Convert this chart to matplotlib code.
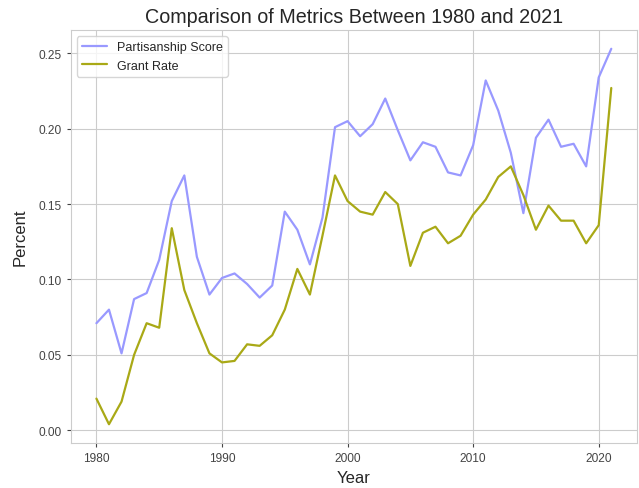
import numpy as np
import matplotlib
matplotlib.use("Agg")
import matplotlib.pyplot as plt
import seaborn as sns

years = np.arange(1980, 2022)

partisanship = [
    0.071, 0.080, 0.051, 0.087, 0.091, 0.113, 0.152, 0.169, 0.115, 0.090,
    0.101, 0.104, 0.097, 0.088, 0.096, 0.145, 0.133, 0.110, 0.141, 0.201,
    0.205, 0.195, 0.203, 0.220, 0.199, 0.179, 0.191, 0.188, 0.171, 0.169,
    0.189, 0.232, 0.212, 0.184, 0.144, 0.194, 0.206, 0.188, 0.190, 0.175,
    0.234, 0.253,
]

grant_rate = [
    0.021, 0.004, 0.019, 0.050, 0.071, 0.068, 0.134, 0.093, 0.071, 0.051,
    0.045, 0.046, 0.057, 0.056, 0.063, 0.080, 0.107, 0.090, 0.129, 0.169,
    0.152, 0.145, 0.143, 0.158, 0.150, 0.109, 0.131, 0.135, 0.124, 0.129,
    0.143, 0.153, 0.168, 0.175, 0.156, 0.133, 0.149, 0.139, 0.139, 0.124,
    0.136, 0.227,
]

sns.set_style("whitegrid")
plt.rcParams['font.family'] = ['Liberation Sans', 'DejaVu Sans']
plt.rcParams['xtick.bottom'] = True
plt.rcParams['ytick.left'] = True

fig, ax = plt.subplots(figsize=(6.39, 4.89), dpi=100)

ax.plot(years, partisanship, color='#9999ff', lw=1.6, label='Partisanship Score')
ax.plot(years, grant_rate, color='#a9a916', lw=1.6, label='Grant Rate')

ax.set_title("Comparison of Metrics Between 1980 and 2021", fontsize=14.2)
ax.set_xlabel("Year", fontsize=12)
ax.set_ylabel("Percent", fontsize=12, labelpad=8)
ax.tick_params(labelsize=8.6, colors='#444444', length=3)
ax.legend(loc='upper left', fontsize=9)

plt.subplots_adjust(left=0.1106, right=0.9969, top=0.9366, bottom=0.092)
plt.savefig("out.png", dpi=100)
